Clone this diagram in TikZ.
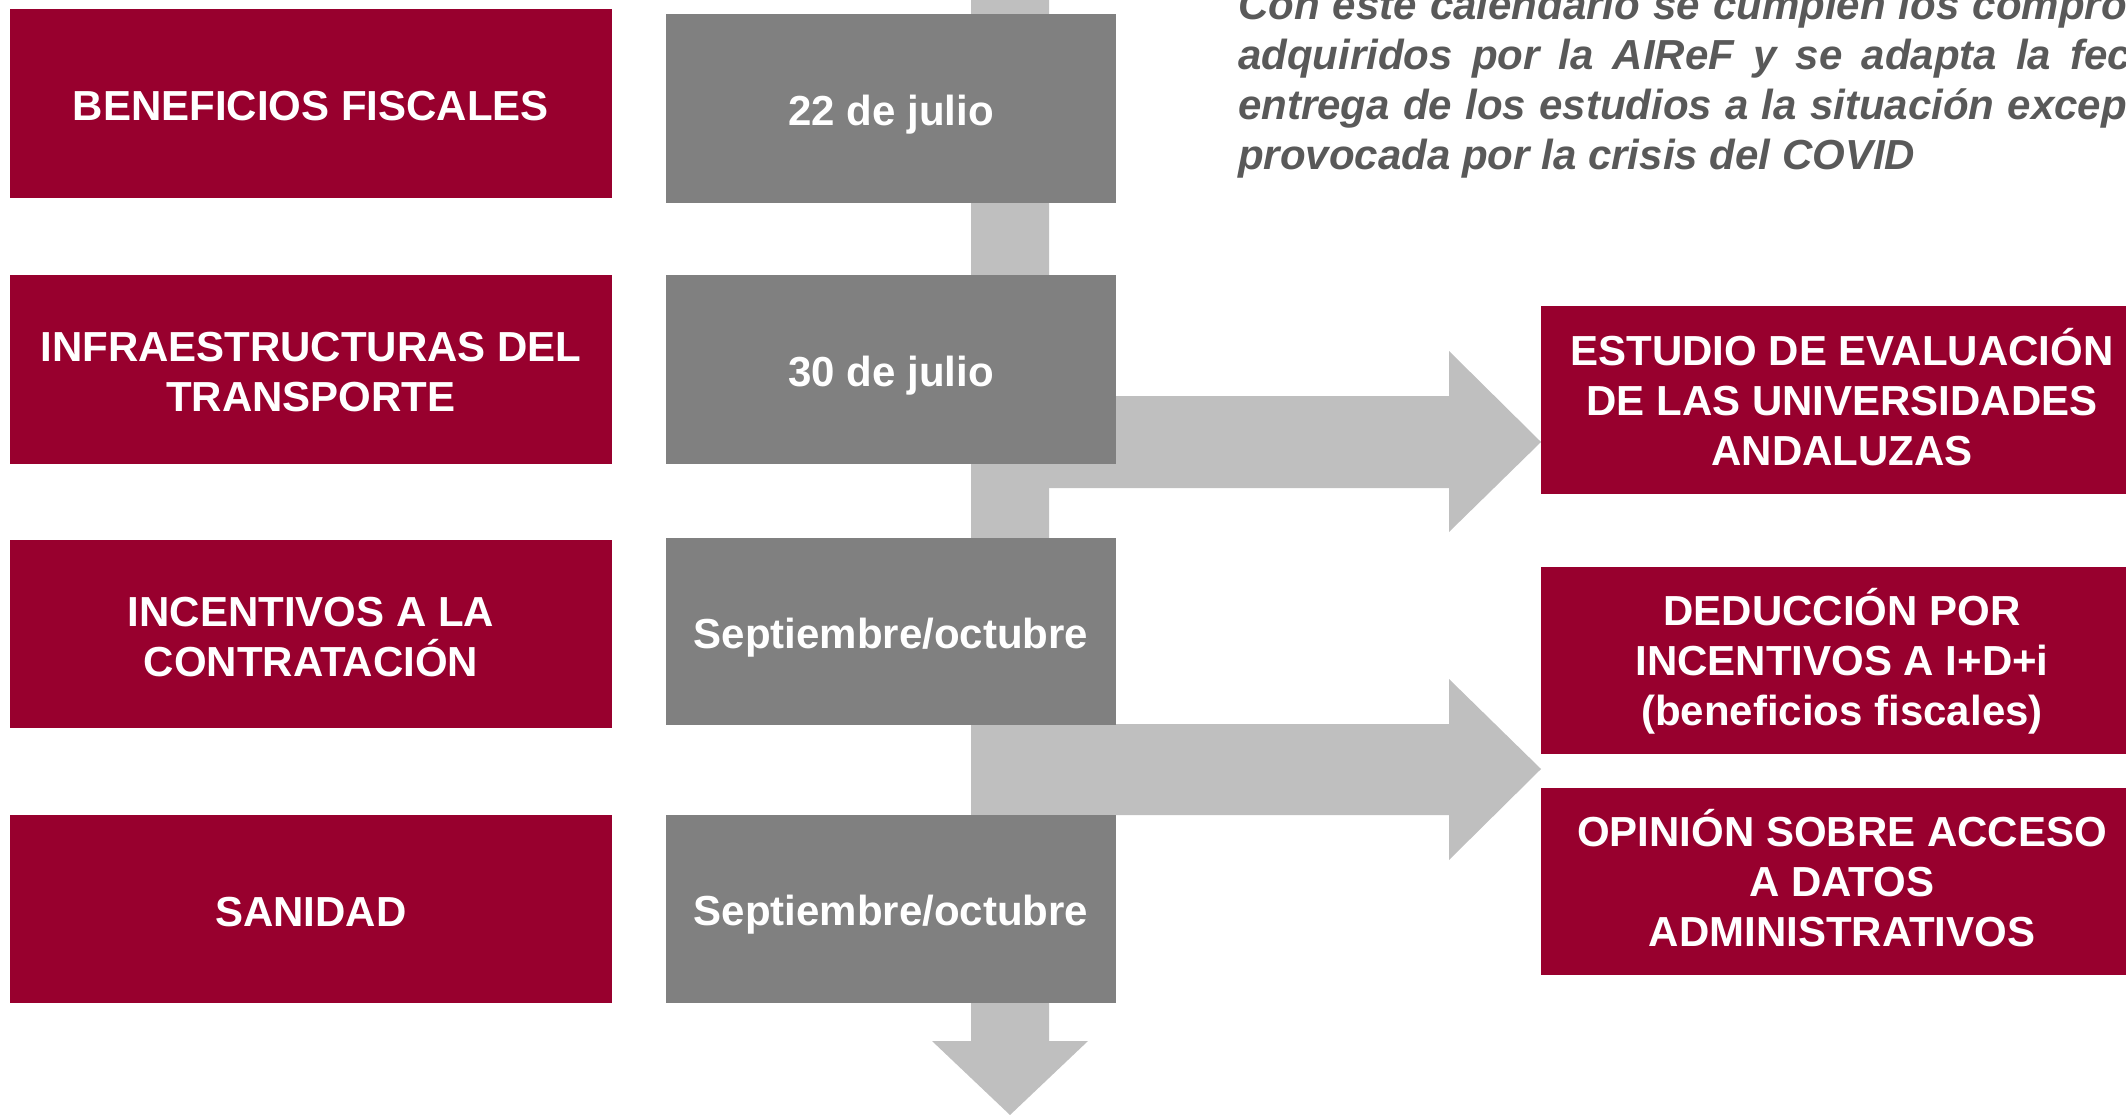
\documentclass[tikz,border=0pt]{standalone}
\usepackage{fontspec}
\setmainfont{Liberation Sans}
\definecolor{airefred}{RGB}{152,0,46}
\definecolor{boxgrey}{RGB}{128,128,128}
\definecolor{arrowgrey}{RGB}{191,191,191}
\definecolor{textgrey}{RGB}{89,89,89}
\tikzset{
  boxtext/.style={inner sep=0pt, text=white, font=\bfseries\fontsize{42}{50}\selectfont, align=center},
  redbox/.style={inner sep=0pt, fill=airefred, minimum width=602pt},
  greybox/.style={inner sep=0pt, fill=boxgrey, minimum width=450pt},
  blockarrow/.style={fill=arrowgrey, draw=none},
  note/.style={inner sep=0pt, anchor=base west, text=textgrey, font=\bfseries\itshape\fontsize{42}{50}\selectfont},
}
\begin{document}
\begin{tikzpicture}[x=1pt,y=-1pt]
\useasboundingbox (0,0) rectangle (2126,1115);
\clip (0,0) rectangle (2126,1115);

% block arrows
\path[blockarrow] (971,-5) -- (1049,-5) -- (1049,1041) -- (1088,1041) -- (1010,1115) -- (932,1041) -- (971,1041) -- cycle;
\path[blockarrow] (971,396) -- (1449,396) -- (1449,351) -- (1541,442) -- (1449,532) -- (1449,488) -- (971,488) -- cycle;
\path[blockarrow] (971,724) -- (1449,724) -- (1449,679) -- (1541,769) -- (1449,860) -- (1449,815) -- (971,815) -- cycle;

% left red boxes
\node[redbox, minimum height=189pt] (r1) at (311,103.5) {};
\node[redbox, minimum height=189pt] (r2) at (311,369.5) {};
\node[redbox, minimum height=188pt] (r3) at (311,634) {};
\node[redbox, minimum height=188pt] (r4) at (311,909) {};
\node[boxtext] (r1t) at ([yshift=-3pt]r1.center) {BENEFICIOS FISCALES};
\node[boxtext] (r2t) at ([yshift=-3pt]r2.center) {INFRAESTRUCTURAS DEL\\TRANSPORTE};
\node[boxtext] (r3t) at ([yshift=-3pt]r3.center) {INCENTIVOS A LA\\CONTRATACIÓN};
\node[boxtext] (r4t) at ([yshift=-3pt]r4.center) {SANIDAD};

% grey date boxes
\node[greybox, minimum height=189pt] (g1) at (891,108.5) {};
\node[greybox, minimum height=189pt] (g2) at (891,369.5) {};
\node[greybox, minimum height=187pt] (g3) at (891,631.5) {};
\node[greybox, minimum height=188pt] (g4) at (891,909) {};
\node[boxtext] (g1t) at ([yshift=-6pt]g1.center) {22 de julio};
\node[boxtext] (g2t) at ([yshift=-6pt]g2.center) {30 de julio};
\node[boxtext] (g3t) at ([yshift=-6pt]g3.center) {Septiembre/octubre};
\node[boxtext] (g4t) at ([yshift=-6pt]g4.center) {Septiembre/octubre};

% right red boxes
\node[redbox, minimum height=188pt] (b1) at (1842,400) {};
\node[redbox, minimum height=187pt] (b2) at (1842,660.5) {};
\node[redbox, minimum height=187pt] (b3) at (1842,881.5) {};
\node[boxtext] (b1t) at ([yshift=3pt]b1.center) {ESTUDIO DE EVALUACIÓN\\DE LAS UNIVERSIDADES\\ANDALUZAS};
\node[boxtext] (b2t) at ([yshift=-1pt]b2.center) {DEDUCCIÓN POR\\INCENTIVOS A I+D+i\\(beneficios fiscales)};
\node[boxtext] (b3t) at ([yshift=3pt]b3.center) {OPINIÓN SOBRE ACCESO\\A DATOS\\ADMINISTRATIVOS};

% note
\node[note] (n1) at (1238,20) {\makebox[1010pt][s]{Con este calendario se cumplen los compromisos}};
\node[note] (n2) at (1238,70) {\makebox[1010pt][s]{adquiridos por la AIReF y se adapta la fecha de}};
\node[note] (n3) at (1238,120) {\makebox[1010pt][s]{entrega de los estudios a la situación excepcional}};
\node[note] (n4) at (1238,170) {provocada por la crisis del COVID};
\end{tikzpicture}
\end{document}
